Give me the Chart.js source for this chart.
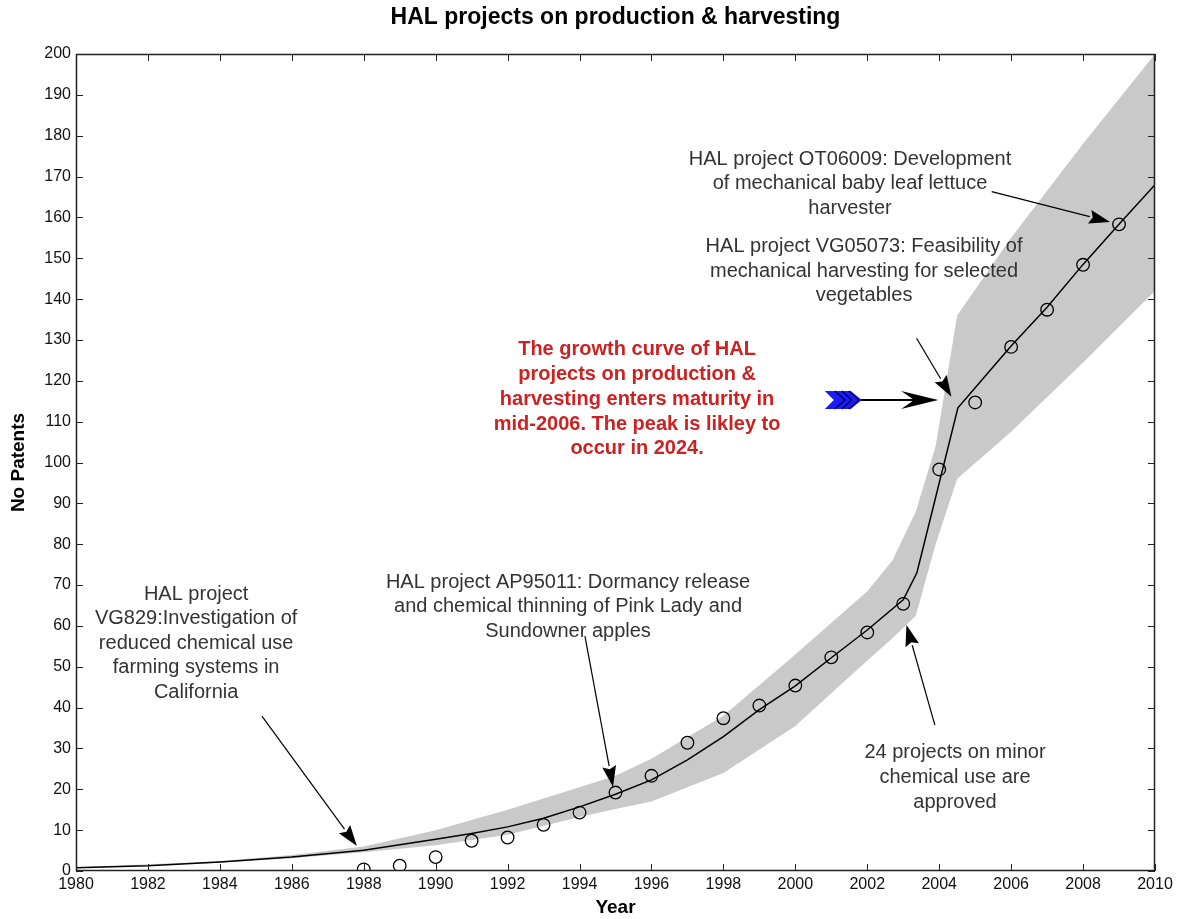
<!DOCTYPE html>
<html><head><meta charset="utf-8">
<script src="https://cdn.jsdelivr.net/npm/chart.js@4.4.1/dist/chart.umd.min.js"></script>
<style>html,body{margin:0;padding:0;background:#fff}canvas{display:block}</style>
</head><body>
<canvas id="c" width="1184" height="919"></canvas>
<script>
// ---- data ----
const obsYears  = [1988,1989,1990,1991,1992,1993,1994,1995,1996,1997,1998,1999,2000,2001,2002,2003,2004,2005,2006,2007,2008,2009];
const obsValues = [0.4,1.3,3.4,7.4,8.2,11.3,14.3,19.2,23.3,31.4,37.4,40.5,45.4,52.3,58.4,65.4,98.3,114.7,128.3,137.4,148.4,158.3];

const fitYears  = [1980,1982,1984,1986,1988,1990,1991,1992,1993,1994,1995,1996,1997,1998,1999,2000,2001,2002,2003,2003.38,2004.52,2006,2007,2008,2009,2010];
const fitValues = [0.8,1.3,2.2,3.4,5.1,7.8,9.2,10.8,12.9,15.7,18.8,22.3,27.2,32.9,39.5,45.3,52.2,59.0,66.4,73.0,113.4,128.5,138.0,148.5,158.3,168.0];

const bandYears = [1980,1984,1986,1988,1990,1992,1994,1995,1996,1998,2000,2002,2002.7,2003.35,2003.9,2004.5,2006,2008,2010];
const bandUpper = [0.9,2.4,3.9,6.0,10.0,15.0,20.5,23.3,27.5,38.0,53.0,68.5,76.0,88.0,104.0,136.0,155.0,178.0,200.0];
const bandLower = [0.7,2.0,3.1,4.6,6.3,8.9,13.2,15.2,17.0,24.0,35.5,51.5,57.0,62.5,80.0,96.0,107.5,124.5,142.0];

const xMin = 1980, xMax = 2010, xStep = 2;
const yMin = 0, yMax = 200, yStep = 10;

const titleText = 'HAL projects on production & harvesting';
const xTitle = 'Year';
const yTitle = 'No Patents';

// annotations: text lines anchored (first line centre) in data coordinates
const notes = [
  {x:1983.34, y:67.8, lines:['HAL project','VG829:Investigation of','reduced chemical use','farming systems in','California']},
  {x:1993.68, y:70.7, lines:['HAL project AP95011: Dormancy release','and chemical thinning of Pink Lady and','Sundowner apples']},
  {x:2004.44, y:28.9, lines:['24 projects on minor','chemical use are','approved']},
  {x:2001.52, y:174.3, lines:['HAL project OT06009: Development','of mechanical baby leaf lettuce','harvester']},
  {x:2001.91, y:152.9, lines:['HAL project VG05073: Feasibility of','mechanical harvesting for selected','vegetables']}
];
const redNote = {x:1995.6, y:127.6, lines:['The growth curve of HAL','projects on production &','harvesting enters maturity in','mid-2006. The peak is likley to','occur in 2024.']};
// arrows: [fromX, fromY, toX, toY] in data coordinates
const arrows = [
  [1985.17,37.9,1987.81,6.1],
  [1994.15,57.5,1994.93,20.6],
  [2003.88,35.7,2003.09,60.2],
  [2005.46,166.3,2008.75,158.9],
  [2003.37,130.4,2004.34,116.1]
];
const bigArrow = {fromX:2000.82, toX:2003.97, y:115.3};

// ---- plugin for MATLAB-style frame, inward ticks, title and annotations ----
const FONT = '"Liberation Sans", Arial, sans-serif';
function drawArrow(ctx, x1, y1, x2, y2, len, half) {
  const a = Math.atan2(y2 - y1, x2 - x1);
  const bx = x2 - len * Math.cos(a), by = y2 - len * Math.sin(a);
  ctx.beginPath(); ctx.moveTo(x1, y1); ctx.lineTo(bx, by); ctx.stroke();
  ctx.beginPath();
  ctx.moveTo(x2, y2);
  ctx.lineTo(bx + half * Math.sin(a), by - half * Math.cos(a));
  ctx.lineTo(bx + 0.15 * len * Math.cos(a), by + 0.15 * len * Math.sin(a));
  ctx.lineTo(bx - half * Math.sin(a), by + half * Math.cos(a));
  ctx.closePath(); ctx.fill();
}
const framePlugin = {
  id: 'frame',
  afterDatasetsDraw(chart) {
    const {ctx, chartArea: a, scales: {x, y}} = chart;
    ctx.save();
    // title centred over the plot area
    ctx.textAlign = 'center'; ctx.textBaseline = 'middle';
    ctx.fillStyle = '#000'; ctx.font = 'bold 23px ' + FONT;
    ctx.fillText(titleText, (a.left + a.right) / 2, 18);

    ctx.strokeStyle = '#222'; ctx.lineWidth = 1;
    ctx.beginPath();
    x.ticks.forEach(t => {
      const p = Math.round(x.getPixelForValue(t.value)) + 0.5;
      ctx.moveTo(p, a.bottom); ctx.lineTo(p, a.bottom - 7);
      ctx.moveTo(p, a.top); ctx.lineTo(p, a.top + 7);
    });
    y.ticks.forEach(t => {
      const p = Math.round(y.getPixelForValue(t.value)) + 0.5;
      ctx.moveTo(a.left, p); ctx.lineTo(a.left + 7, p);
      ctx.moveTo(a.right, p); ctx.lineTo(a.right - 7, p);
    });
    ctx.stroke();
    ctx.lineWidth = 1.5;
    ctx.strokeRect(Math.round(a.left) + 0.5, Math.round(a.top) + 0.5, Math.round(a.right - a.left) - 1, Math.round(a.bottom - a.top) - 1);

    // notes
    ctx.font = '20px ' + FONT; ctx.fillStyle = '#333';
    notes.forEach(n => {
      const cx = x.getPixelForValue(n.x), cy = y.getPixelForValue(n.y);
      n.lines.forEach((l, i) => ctx.fillText(l, cx, cy + i * 24.6));
    });
    ctx.font = 'bold 20px ' + FONT; ctx.fillStyle = '#cc2222';
    {
      const cx = x.getPixelForValue(redNote.x), cy = y.getPixelForValue(redNote.y);
      redNote.lines.forEach((l, i) => ctx.fillText(l, cx, cy + i * 24.8));
    }
    // arrows
    ctx.strokeStyle = '#000'; ctx.fillStyle = '#000'; ctx.lineWidth = 1.2;
    arrows.forEach(r => drawArrow(ctx, x.getPixelForValue(r[0]), y.getPixelForValue(r[1]), x.getPixelForValue(r[2]), y.getPixelForValue(r[3]), 21, 7));

    // big feathered arrow
    const sx = x.getPixelForValue(bigArrow.fromX), tx = x.getPixelForValue(bigArrow.toX), cy = y.getPixelForValue(bigArrow.y);
    ctx.lineWidth = 2;
    ctx.beginPath(); ctx.moveTo(sx + 36, cy); ctx.lineTo(tx - 22, cy); ctx.stroke();
    ctx.beginPath();
    ctx.moveTo(tx, cy); ctx.lineTo(tx - 37, cy - 9); ctx.lineTo(tx - 24, cy); ctx.lineTo(tx - 37, cy + 9); ctx.closePath(); ctx.fill();
    // feather
    ctx.fillStyle = '#1a1aff';
    ctx.beginPath();
    ctx.moveTo(sx, cy - 9); ctx.lineTo(sx + 26, cy - 9); ctx.lineTo(sx + 37, cy); ctx.lineTo(sx + 26, cy + 9);
    ctx.lineTo(sx, cy + 9); ctx.lineTo(sx + 9, cy); ctx.closePath(); ctx.fill();
    ctx.strokeStyle = '#000033'; ctx.lineWidth = 1.2;
    [10, 17, 24].forEach(o => {
      ctx.beginPath(); ctx.moveTo(sx + o, cy - 9); ctx.lineTo(sx + o + 10, cy); ctx.lineTo(sx + o, cy + 9); ctx.stroke();
    });
    ctx.restore();
  }
};

const pts = (xs, ys) => xs.map((v, i) => ({x: v, y: ys[i]}));

new Chart(document.getElementById('c'), {
  type: 'line',
  data: {
    datasets: [
      {label: 'Observed', data: pts(obsYears, obsValues), showLine: false, pointStyle: 'circle',
       pointRadius: 6.3, pointBorderWidth: 1.3, pointBorderColor: '#000', pointBackgroundColor: 'rgba(255,255,255,0)', borderColor: '#000'},
      {label: 'Fit', data: pts(fitYears, fitValues), borderColor: '#000', borderWidth: 1.5, pointRadius: 0, tension: 0, fill: false},
      {label: 'Upper', data: pts(bandYears, bandUpper), borderWidth: 0, borderColor: 'rgba(0,0,0,0)', pointRadius: 0,
       backgroundColor: '#c9c9c9', fill: '+1', tension: 0},
      {label: 'Lower', data: pts(bandYears, bandLower), borderWidth: 0, borderColor: 'rgba(0,0,0,0)', pointRadius: 0, fill: false, tension: 0}
    ]
  },
  options: {
    responsive: false,
    animation: false,
    devicePixelRatio: 1,
    layout: {padding: {left: 0, right: 29, top: 54, bottom: 0}},
    plugins: {
      legend: {display: false},
      tooltip: {enabled: false},
      title: {display: false}
    },
    scales: {
      x: {type: 'linear', min: xMin, max: xMax,
          ticks: {stepSize: xStep, color: '#111', font: {family: FONT, size: 16}, padding: 4, maxRotation: 0,
                  callback: v => String(v)},
          grid: {display: false, drawTicks: false}, border: {display: false},
          title: {display: true, text: xTitle, color: '#000', font: {family: FONT, size: 19, weight: 'bold'}, padding: {top: 0, bottom: 0}},
          afterFit: s => { s.height = 48; }},
      y: {type: 'linear', min: yMin, max: yMax,
          ticks: {stepSize: yStep, color: '#111', font: {family: FONT, size: 16}, padding: 5,
                  callback: v => String(v)},
          grid: {display: false, drawTicks: false}, border: {display: false},
          title: {display: true, text: yTitle, color: '#000', font: {family: FONT, size: 19, weight: 'bold'}, padding: {top: 7, bottom: 0}},
          afterFit: s => { s.width = 76; }}
    }
  },
  plugins: [framePlugin]
});
</script>
</body></html>
